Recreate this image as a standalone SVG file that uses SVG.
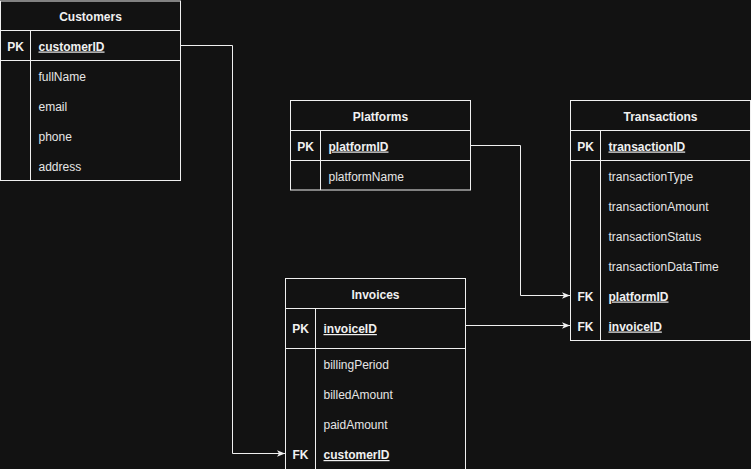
<svg xmlns="http://www.w3.org/2000/svg" width="751" height="469" viewBox="0 0 751 469">
<defs>
<style>
.box{fill:#121212;stroke:#f0f0f0;stroke-width:1}
.ln{stroke:#f0f0f0;stroke-width:1;fill:none}
.t{font-family:"Liberation Sans",Arial,sans-serif;font-size:12px;fill:#f0f0f0}
.h{font-weight:bold;text-anchor:middle}
.k{font-weight:bold}
.u{font-weight:bold;text-decoration:underline}
.a{fill:#e6e6e6}
.conn{stroke:#f0f0f0;stroke-width:1;fill:none;marker-end:url(#arr)}
</style>
<marker id="arr" viewBox="0 0 10 10" refX="10" refY="5" markerWidth="8" markerHeight="8" markerUnits="userSpaceOnUse" orient="auto">
<path d="M0,1 L10,5 L0,9 L2.5,5 Z" fill="#f0f0f0"/>
</marker>
</defs>
<rect width="751" height="469" fill="#121212"/>

<g id="customers">
<rect class="box" x="0.5" y="1" width="180" height="179.5"/>
<line class="ln" x1="0.5" y1="30.5" x2="180.5" y2="30.5"/>
<line class="ln" x1="0.5" y1="60.5" x2="180.5" y2="60.5"/>
<line class="ln" x1="30.5" y1="30.5" x2="30.5" y2="180.5"/>
<text class="t h" x="90.5" y="20.5">Customers</text>
<text class="t k" x="15.5" y="50.5" text-anchor="middle">PK</text>
<text class="t u" x="38.5" y="50.5">customerID</text>
<text class="t a" x="38.5" y="80.5">fullName</text>
<text class="t a" x="38.5" y="110.5">email</text>
<text class="t a" x="38.5" y="140.5">phone</text>
<text class="t a" x="38.5" y="170.5">address</text>
</g>

<g id="platforms">
<rect class="box" x="290.5" y="100.5" width="180" height="89.5"/>
<line class="ln" x1="290.5" y1="130.5" x2="470.5" y2="130.5"/>
<line class="ln" x1="290.5" y1="160.5" x2="470.5" y2="160.5"/>
<line class="ln" x1="320.5" y1="130.5" x2="320.5" y2="190"/>
<text class="t h" x="380.5" y="120.5">Platforms</text>
<text class="t k" x="305.5" y="150.5" text-anchor="middle">PK</text>
<text class="t u" x="328.5" y="150.5">platformID</text>
<text class="t a" x="328.5" y="180.5">platformName</text>
</g>

<g id="transactions">
<rect class="box" x="570.5" y="100.5" width="180" height="240"/>
<line class="ln" x1="570.5" y1="130.5" x2="750.5" y2="130.5"/>
<line class="ln" x1="570.5" y1="160.5" x2="750.5" y2="160.5"/>
<line class="ln" x1="600.5" y1="130.5" x2="600.5" y2="340.5"/>
<text class="t h" x="660.5" y="120.5">Transactions</text>
<text class="t k" x="585.5" y="150.5" text-anchor="middle">PK</text>
<text class="t u" x="608.5" y="150.5">transactionID</text>
<text class="t a" x="608.5" y="180.5">transactionType</text>
<text class="t a" x="608.5" y="210.5">transactionAmount</text>
<text class="t a" x="608.5" y="240.5">transactionStatus</text>
<text class="t a" x="608.5" y="270.5">transactionDataTime</text>
<text class="t k" x="585.5" y="300.5" text-anchor="middle">FK</text>
<text class="t u" x="608.5" y="300.5">platformID</text>
<text class="t k" x="585.5" y="330.5" text-anchor="middle">FK</text>
<text class="t u" x="608.5" y="330.5">invoiceID</text>
</g>

<g id="invoices">
<rect class="box" x="285.5" y="278.5" width="180" height="195"/>
<line class="ln" x1="285.5" y1="308.5" x2="465.5" y2="308.5"/>
<line class="ln" x1="285.5" y1="348.5" x2="465.5" y2="348.5"/>
<line class="ln" x1="315.5" y1="308.5" x2="315.5" y2="473"/>
<text class="t h" x="375.5" y="298.5">Invoices</text>
<text class="t k" x="300.5" y="333" text-anchor="middle">PK</text>
<text class="t u" x="323.5" y="333">invoiceID</text>
<text class="t a" x="323.5" y="369">billingPeriod</text>
<text class="t a" x="323.5" y="399">billedAmount</text>
<text class="t a" x="323.5" y="429">paidAmount</text>
<text class="t k" x="300.5" y="459" text-anchor="middle">FK</text>
<text class="t u" x="323.5" y="459">customerID</text>
</g>

<g id="connectors">
<path class="conn" d="M180.5,45.5 H232.5 V453.5 H285"/>
<path class="conn" d="M470.5,145.5 H520.5 V295.5 H570"/>
<path class="conn" d="M465.5,325.5 H570"/>
</g>
</svg>
